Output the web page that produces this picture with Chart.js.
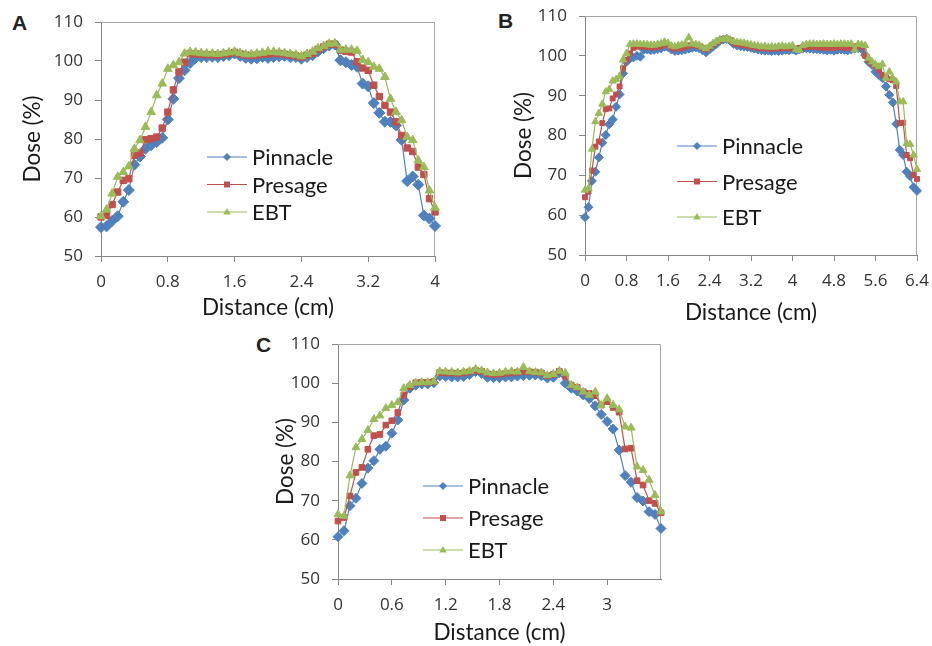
<!DOCTYPE html>
<html>
<head>
<meta charset="utf-8">
<script src="https://cdn.jsdelivr.net/npm/chart.js@4.4.0/dist/chart.umd.min.js"></script>
<style>
  body { margin: 0; background: #fff; width: 932px; height: 646px; position: relative; overflow: hidden; }
  canvas { position: absolute; }
  .tag { position: absolute; font: bold 21px "Liberation Sans", Arial, sans-serif; line-height: 21px; color: #222; }
</style>
</head>
<body>
<div class="tag" style="left:12px;top:12px">A</div>
<div class="tag" style="left:498px;top:10px">B</div>
<div class="tag" style="left:256px;top:334px">C</div>
<canvas id="chartA" width="460" height="330" style="left:0;top:0"></canvas>
<canvas id="chartB" width="462" height="330" style="left:470px;top:0"></canvas>
<canvas id="chartC" width="460" height="316" style="left:240px;top:330px"></canvas>
<script>
// sampling step of the profiles (cm)
const STEP = 1 / 15;
const seriesNames = ['Pinnacle', 'Presage', 'EBT'];
const yTicks = [50, 60, 70, 80, 90, 100, 110];

// Panel A: 0 - 4 cm
const pinnacleA = [57.4, 57.6, 59.0, 60.2, 63.9, 66.9, 73.4, 75.5, 77.5, 78.4, 79.2, 80.3, 85.0, 90.3, 95.6, 97.6, 99.5,
  100.8, 101.0, 101.0, 101.1, 101.0, 101.3, 101.5, 101.9, 101.3, 100.8, 100.6, 100.7, 101.0, 100.8, 101.0, 101.2, 101.3,
  101.0, 101.0, 100.6, 101.0, 101.5, 102.5, 103.3, 104.0, 104.2,
  100.2, 99.7, 99.0, 98.5, 94.2, 93.5, 89.2, 86.7, 84.4, 84.4, 83.5, 79.8, 69.2, 70.4, 68.3, 60.4, 59.6, 57.7];
const presageA = [60.0, 60.4, 63.2, 66.4, 69.4, 69.8, 75.8, 76.4, 79.8, 80.1, 80.5, 82.8, 86.9, 92.6, 97.2, 99.7, 101.9,
  101.8, 101.7, 101.6, 101.6, 101.5, 101.7, 101.9, 102.2, 101.8, 101.5, 101.4, 101.5, 101.7, 101.8, 101.9, 101.9, 101.7,
  101.5, 101.3, 101.0, 101.5, 102.0, 103.0, 103.6, 104.3, 104.3,
  102.8, 102.5, 102.3, 99.8, 98.2, 97.6, 93.8, 90.9, 88.6, 86.9, 84.4, 80.9, 77.7, 76.8, 72.8, 70.9, 64.7, 61.3];
const ebtA = [60.2, 61.9, 66.0, 70.3, 71.5, 73.0, 77.5, 79.7, 83.1, 86.9, 91.2, 94.2, 98.0, 98.9, 99.7, 101.9, 102.3,
  102.2, 102.0, 101.9, 101.9, 101.8, 102.0, 102.2, 102.4, 102.0, 101.7, 101.7, 101.9, 102.1, 102.4, 102.3, 102.2, 102.0,
  101.8, 101.6, 101.2, 101.8, 102.4, 103.3, 103.8, 104.4, 104.5,
  102.9, 102.9, 102.9, 102.6, 100.3, 99.7, 98.5, 98.0, 95.9, 90.3, 86.9, 84.8, 80.5, 79.7, 74.5, 72.8, 66.8, 62.4];

// Panel B: 0 - 6.4 cm
const pinnacleB = [59.5, 62.0, 68.6, 70.9, 74.5, 78.2, 80.1, 82.8, 84.0, 87.2, 90.3, 95.6, 98.5, 99.3, 99.6, 100.0, 99.8,
  101.5, 101.6, 101.4, 101.5, 101.7, 101.9, 102.3, 102.2, 101.6, 101.2, 101.3, 101.4, 101.6, 101.8, 102.0, 102.1, 101.9,
  101.4, 100.9, 101.6, 102.3, 103.0, 103.8, 104.1, 104.2, 103.8, 103.0, 102.6, 102.4, 102.3, 102.2, 102.0, 101.8, 101.6,
  101.4, 101.3, 101.3, 101.2, 101.3, 101.2, 101.3, 101.5, 101.4, 101.6, 101.3, 101.6, 101.8, 101.9, 101.8, 101.7, 101.7,
  101.6, 101.5, 101.4, 101.5, 101.3, 101.5, 101.6, 101.5, 101.4, 101.6, 101.8, 101.9, 101.7,
  100.2, 98.5, 97.7, 96.0, 95.2, 94.4, 92.3, 90.2, 88.3, 82.9, 76.4, 75.1, 70.9, 69.8, 67.0, 66.1];
const presageB = [64.5, 65.9, 71.2, 77.2, 78.5, 83.1, 86.6, 86.8, 89.3, 90.3, 92.3, 96.9, 99.0, 100.6, 102.0, 102.3, 102.4,
  102.3, 102.2, 102.1, 102.1, 102.3, 102.5, 102.9, 102.7, 102.1, 101.8, 101.9, 102.0, 102.3, 102.6, 102.7, 102.6, 102.4,
  102.0, 101.6, 102.1, 102.8, 103.4, 103.9, 104.2, 104.3, 104.0, 103.3, 103.0, 102.8, 102.7, 102.5, 102.3, 102.2, 102.0,
  101.9, 101.9, 101.8, 101.8, 101.9, 101.8, 101.9, 102.0, 102.0, 101.9, 101.7, 102.0, 102.2, 102.3, 102.3, 102.2, 102.2,
  102.1, 102.1, 102.0, 102.1, 102.0, 102.1, 102.2, 102.1, 102.0, 102.2, 102.4, 102.5, 102.3,
  100.0, 99.0, 98.1, 97.5, 96.5, 95.2, 94.6, 94.1, 93.9, 92.4, 83.1, 83.2, 75.1, 74.3, 70.1, 69.1];
const ebtB = [66.3, 66.7, 76.6, 83.5, 85.6, 87.9, 91.0, 91.6, 93.7, 94.1, 94.8, 99.0, 100.6, 102.9, 103.0, 103.0, 102.9,
  102.9, 102.8, 102.7, 102.7, 102.9, 103.1, 103.5, 103.2, 102.5, 102.3, 102.6, 102.8, 103.0, 104.6, 103.0, 102.9, 102.7,
  102.2, 101.8, 102.4, 103.1, 103.7, 104.1, 104.2, 104.3, 104.0, 103.6, 103.4, 103.3, 103.2, 103.0, 102.8, 102.6, 102.5,
  102.3, 102.4, 102.2, 102.3, 102.2, 102.4, 102.5, 102.3, 102.4, 102.6, 101.6, 101.4, 102.6, 102.9, 103.0, 103.0, 102.9,
  102.9, 103.0, 102.9, 102.9, 103.0, 102.9, 103.0, 103.0, 102.9, 103.0, 101.5, 102.9, 102.8,
  102.6, 99.4, 98.5, 97.8, 97.3, 97.9, 94.4, 96.0, 94.4, 93.5, 88.5, 88.5, 78.0, 77.8, 75.1, 71.5];

// Panel C: 0 - 3.6 cm
const pinnacleC = [60.8, 62.3, 68.7, 70.6, 74.4, 78.3, 80.2, 83.1, 83.9, 87.2, 90.6, 95.7, 98.7, 99.5, 99.8, 99.8, 100.1,
  101.8, 101.7, 101.6, 101.6, 101.7, 102.2, 103.0, 102.5, 101.5, 101.4, 101.4, 101.6, 101.6, 101.8, 101.9, 102.0, 102.1,
  101.9, 101.3, 101.5, 102.7,
  100.0, 98.7, 98.0, 97.0, 96.1, 94.2, 92.0, 90.2, 88.3, 82.9, 76.4, 74.7, 70.8, 69.9, 67.2, 66.5, 62.9];
const presageC = [64.8, 65.7, 71.2, 77.2, 78.5, 83.1, 86.6, 86.9, 89.3, 90.4, 92.5, 97.0, 99.1, 100.1, 100.2, 100.2, 100.4,
  102.7, 102.6, 102.6, 102.5, 102.6, 102.9, 103.3, 103.0, 102.4, 102.2, 102.3, 102.5, 102.6, 102.8, 103.0, 102.9, 102.8,
  102.6, 101.9, 102.2, 103.0,
  101.8, 99.5, 98.9, 97.8, 97.4, 96.8, 94.4, 95.3, 93.8, 92.6, 83.2, 83.4, 75.1, 74.0, 70.0, 69.3, 66.9];
const ebtC = [66.5, 66.1, 76.4, 83.6, 85.7, 88.0, 90.8, 91.7, 93.6, 94.4, 95.1, 98.7, 99.5, 100.1, 100.2, 100.2, 100.4,
  103.0, 102.9, 102.8, 102.7, 102.9, 103.1, 103.6, 103.2, 102.7, 102.5, 102.6, 102.9, 103.0, 102.9, 104.1, 103.0, 102.8,
  102.7, 102.0, 102.3, 103.1,
  102.6, 99.5, 98.9, 97.8, 97.0, 97.8, 94.4, 96.1, 94.4, 93.3, 88.9, 88.6, 78.7, 77.8, 75.3, 71.4, 67.2];

const colors = ['#4F81BD', '#C0504D', '#9BBB59'];
const styles = ['rectRot', 'rect', 'triangle'];
const AXIS = '#868686';
const TICK_FONT = { family: '"Open Sans"', size: 17 };

function marker(ctx, style, x, y, r) {
  ctx.beginPath();
  if (style === 'rectRot') {
    ctx.moveTo(x, y - r); ctx.lineTo(x + r, y); ctx.lineTo(x, y + r); ctx.lineTo(x - r, y);
  } else if (style === 'rect') {
    ctx.rect(x - r, y - r, 2 * r, 2 * r);
  } else {
    ctx.moveTo(x, y - r); ctx.lineTo(x + r * 0.95, y + r * 0.65); ctx.lineTo(x - r * 0.95, y + r * 0.65);
  }
  ctx.closePath();
  ctx.fill();
}

// legend drawn inside the plot, like the Excel one
const insideLegend = {
  id: 'insideLegend',
  afterDatasetsDraw(chart, args, opts) {
    const ctx = chart.ctx;
    ctx.save();
    seriesNames.forEach((name, i) => {
      const y = opts.y + i * opts.gap;
      ctx.strokeStyle = colors[i];
      ctx.fillStyle = colors[i];
      ctx.lineWidth = 1.2;
      ctx.beginPath();
      ctx.moveTo(opts.x, y);
      ctx.lineTo(opts.x + 40, y);
      ctx.stroke();
      marker(ctx, styles[i], opts.x + 20, y, [4, 3, 4][i]);
      ctx.fillStyle = '#1a1a1a';
      ctx.font = '22px Lato';
      ctx.textBaseline = 'middle';
      ctx.fillText(name, opts.x + 45, y + 1);
    });
    ctx.restore();
  }
};

// top and right edges of the plot area
const plotFrame = {
  id: 'plotFrame',
  beforeDatasetsDraw(chart) {
    const {ctx, chartArea: a} = chart;
    ctx.save();
    ctx.strokeStyle = '#a6a6a6';
    ctx.lineWidth = 1;
    ctx.beginPath();
    ctx.moveTo(a.left, a.top + 0.5);
    ctx.lineTo(a.right - 0.5, a.top + 0.5);
    ctx.lineTo(a.right - 0.5, a.bottom);
    ctx.stroke();
    ctx.restore();
  }
};

// fixed box sizes, no extra padding for end labels
function fixBox(s, w, h) {
  if (w !== undefined) s.width = w;
  if (h !== undefined) s.height = h;
  s.paddingTop = 0; s.paddingBottom = 0; s.paddingLeft = 0; s.paddingRight = 0;
}

function makePanel(id, p) {
  const toPoints = vals => vals.map((v, i) => ({x: i * STEP, y: v}));
  const datasets = p.series.map((vals, i) => ({
    label: seriesNames[i],
    data: toPoints(vals),
    borderColor: colors[i],
    backgroundColor: colors[i],
    pointBackgroundColor: colors[i],
    pointBorderColor: colors[i],
    pointStyle: styles[i],
    pointRadius: p.radius[i],
    pointBorderWidth: 1,
    borderWidth: 1.2,
    tension: 0,
    clip: false,
    order: 2 - i
  }));
  return new Chart(document.getElementById(id), {
    type: 'line',
    data: { datasets },
    options: {
      responsive: false,
      animation: false,
      events: [],
      layout: { padding: { left: 0, top: p.top, right: p.right, bottom: 0 } },
      plugins: {
        legend: { display: false },
        tooltip: { enabled: false },
        insideLegend: p.legend
      },
      scales: {
        x: {
          type: 'linear',
          min: 0,
          max: p.xMax,
          afterFit: s => fixBox(s, undefined, p.xHeight),
          border: { display: true, color: AXIS },
          grid: {
            drawOnChartArea: false,
            tickLength: 6,
            tickColor: c => (c.tick && c.tick.value > p.xLast + 1e-6) ? 'rgba(0,0,0,0)' : AXIS
          },
          ticks: {
            stepSize: p.xStep,
            autoSkip: false,
            maxRotation: 0,
            padding: 10,
            color: '#333',
            font: TICK_FONT,
            callback: v => v > p.xLast + 1e-6 ? '' : String(+v.toFixed(1))
          },
          title: {
            display: true,
            text: 'Distance (cm)',
            color: '#1a1a1a',
            font: { family: 'Lato', size: 22.5 },
            padding: { top: 0, bottom: p.xTitlePad }
          }
        },
        y: {
          min: 50,
          max: 110,
          afterFit: s => fixBox(s, p.yWidth, undefined),
          afterBuildTicks: s => { s.ticks = yTicks.map(v => ({ value: v })); },
          border: { display: true, color: AXIS },
          grid: { drawOnChartArea: false, tickLength: 6, tickColor: AXIS },
          ticks: {
            padding: 12,
            color: '#333',
            font: TICK_FONT
          },
          title: {
            display: true,
            text: 'Dose (%)',
            color: '#1a1a1a',
            font: { family: 'Lato', size: 22.5 },
            padding: { top: p.yTitlePad, bottom: 0 }
          }
        }
      }
    },
    plugins: [plotFrame, insideLegend]
  });
}

function drawAll() {
  makePanel('chartA', {
    series: [pinnacleA, presageA, ebtA],
    radius: [5.5, 4.5, 5],
    xMax: 4, xStep: 0.8, xLast: 4,
    top: 22, right: 25, yWidth: 101, xHeight: 74,
    xTitlePad: 9, yTitlePad: 19,
    legend: { x: 207, y: 157, gap: 27.5 }
  });
  makePanel('chartB', {
    series: [pinnacleB, presageB, ebtB],
    radius: [4.5, 3.5, 4.2],
    xMax: 6.4, xStep: 0.8, xLast: 6.4,
    top: 16, right: 15, yWidth: 115, xHeight: 75,
    xTitlePad: 4, yTitlePad: 40,
    legend: { x: 207, y: 146, gap: 35.5 }
  });
  makePanel('chartC', {
    series: [pinnacleC, presageC, ebtC],
    radius: [5, 4, 4.6],
    xMax: 3.6, xStep: 0.6, xLast: 3,
    top: 14, right: 39, yWidth: 98, xHeight: 67,
    xTitlePad: 0, yTitlePad: 32,
    legend: { x: 183, y: 156, gap: 32 }
  });
}

if (document.fonts && document.fonts.load) {
  Promise.all([
    document.fonts.load('18px Lato'),
    document.fonts.load('17px "Open Sans"'),
    document.fonts.load('bold 20px "Liberation Sans"')
  ]).then(drawAll, drawAll);
} else {
  drawAll();
}
</script>
</body>
</html>
